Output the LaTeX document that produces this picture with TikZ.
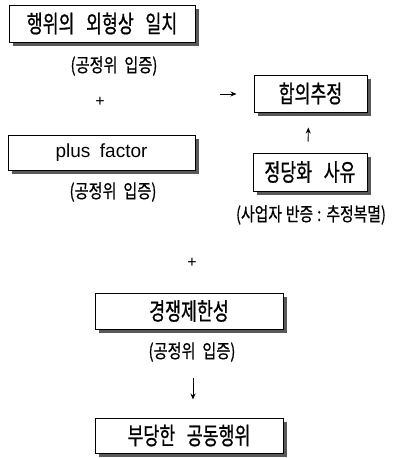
\documentclass[tikz,border=0pt]{standalone}
\usepackage{fontspec}
\newfontfamily\kr[FakeStretch=0.72,FakeBold=0.8,WordSpace=3]{Noto Sans CJK KR}
\newfontfamily\krs[FakeStretch=0.8,FakeBold=0.6,WordSpace=2]{Noto Sans CJK KR}
\newfontfamily\krn[FakeStretch=0.78,FakeBold=0.6,WordSpace=1.2]{Noto Sans CJK KR}
\newfontfamily\lat[WordSpace=1.8]{Liberation Sans}
\usetikzlibrary{arrows.meta,shadows}
\tikzset{
  box/.style={draw, line width=1pt, fill=white, inner sep=0pt,
    general shadow={fill=black!65, shadow xshift=3.5pt, shadow yshift=-3.5pt},
    font=\kr\fontsize{24}{26}\selectfont},
  note/.style={inner sep=0pt, font=\krs\fontsize{19}{21}\selectfont},
  plussign/.style={inner sep=0pt, font=\lat\fontsize{16}{18}\selectfont},
  arr/.style={line width=0.9pt, -{Stealth[length=6pt,width=5pt]}}
}
\begin{document}
\begin{tikzpicture}[x=1pt,y=-1pt]
\useasboundingbox (0,0) rectangle (392,458);
\node[box, minimum width=186pt, minimum height=37pt] (b1) at (102,23.5) {행위의 외형상 일치};
\node[note] (n1) at (114,66) {(공정위 입증)};
\node[plussign] (p1) at (100,102) {+};
\node[box, minimum width=187pt, minimum height=35pt, font=\lat\fontsize{19}{21}\selectfont] (b2) at (101.5,152.5) {plus factor};
\node[note] (n2) at (113,192) {(공정위 입증)};
\node[box, minimum width=113pt, minimum height=37pt] (hap) at (310.5,93.5) {합의추정};
\node[box, minimum width=114pt, minimum height=38pt] (just) at (310,172) {정당화 사유};
\node[note, font=\krn\fontsize{19}{21}\selectfont] (n3) at (311,215) {(사업자 반증 : 추정복멸)};
\node[plussign] (p2) at (192,263) {+};
\node[box, minimum width=188pt, minimum height=36pt] (comp) at (189,311) {경쟁제한성};
\node[note] (n4) at (192,352) {(공정위 입증)};
\node[box, minimum width=188pt, minimum height=35pt] (unf) at (189,435.5) {부당한 공동행위};
\coordinate (a1) at (220,94);
\draw[arr, shorten >=17pt] (a1) -- (hap.west |- a1);
\draw[arr, shorten <=11pt, shorten >=15pt] ([xshift=-2pt]just.north) -- ([xshift=-2pt]hap.south);
\draw[arr, shorten <=48pt, shorten >=18pt] ([xshift=4pt]comp.south) -- ([xshift=4pt]unf.north);
\end{tikzpicture}
\end{document}
